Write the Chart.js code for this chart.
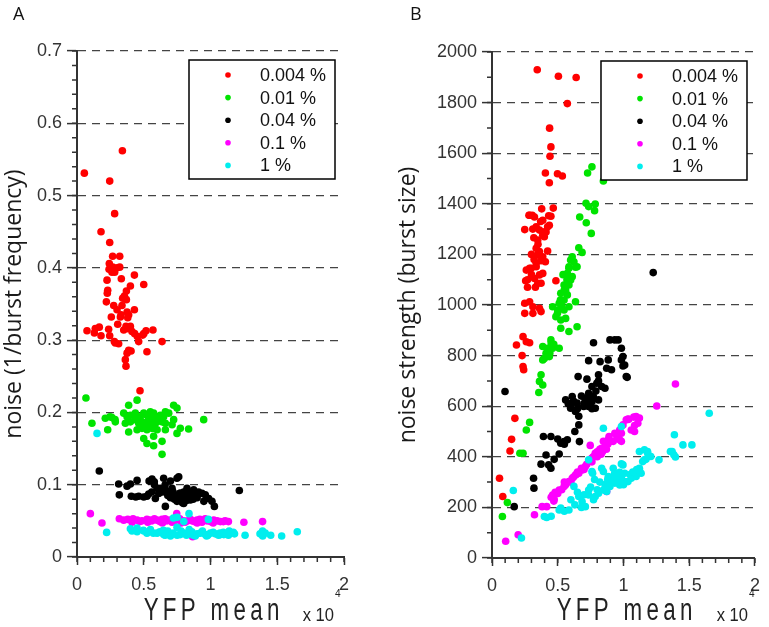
<!DOCTYPE html>
<html><head><meta charset="utf-8">
<script src="https://cdn.jsdelivr.net/npm/chart.js@4/dist/chart.umd.min.js"></script>
<style>
html,body{margin:0;padding:0;background:#fff;}
#wrap{position:relative;width:769px;height:627px;overflow:hidden;}
canvas{position:absolute;top:0;}
</style></head><body>
<div id="wrap"><canvas id="cA" width="385" height="627" style="left:0"></canvas><canvas id="cB" width="384" height="627" style="left:385px"></canvas></div>
<script>
// ---- labels / ticks ----
const seriesLabels = ['0.004 %','0.01 %','0.04 %','0.1 %','1 %'];
const seriesColors = ['#ff0000','#00e400','#000000','#ff00ff','#00eeee'];
const xTicks = [0,0.5,1,1.5,2];
const yTicksA = [0,0.1,0.2,0.3,0.4,0.5,0.6,0.7];
const yTicksB = [0,200,400,600,800,1000,1200,1400,1600,1800,2000];
const xTitle = 'YFP mean';
const yTitleA = 'noise (1/burst frequency)';
const yTitleB = 'noise strength (burst size)';

// ---- Panel A: x = YFP mean (x10^4), y = noise (1/burst frequency) ----
const A_004 = [[0.055,0.531],[0.34,0.562],[0.245,0.52],[0.282,0.475],[0.18,0.45],[0.245,0.435],[0.267,0.416],[0.32,0.416],
[0.242,0.406],[0.267,0.401],[0.24,0.398],[0.3,0.4],[0.32,0.401],[0.262,0.394],[0.282,0.394],
[0.225,0.383],[0.332,0.385],[0.43,0.39],[0.23,0.369],[0.227,0.365],[0.4,0.375],[0.5,0.377],
[0.37,0.368],[0.355,0.361],[0.342,0.358],[0.37,0.356],[0.22,0.353],[0.275,0.348],[0.337,0.348],
[0.3,0.342],[0.43,0.342],[0.375,0.339],[0.33,0.335],[0.387,0.335],[0.257,0.332],[0.325,0.332],[0.38,0.331],
[0.305,0.322],[0.367,0.319],[0.4,0.319],[0.38,0.316],[0.35,0.314],[0.412,0.312],[0.432,0.309],
[0.075,0.313],[0.137,0.316],[0.167,0.318],[0.237,0.315],[0.13,0.31],[0.18,0.306],[0.245,0.306],
[0.5,0.309],[0.517,0.313],[0.492,0.307],[0.569,0.314],[0.452,0.305],[0.462,0.298],
[0.28,0.298],[0.312,0.295],[0.287,0.296],[0.637,0.298],
[0.387,0.286],[0.405,0.285],[0.375,0.282],[0.524,0.284],[0.362,0.273],[0.367,0.264],[0.472,0.23]];
const A_01 = [[0.067,0.22],[0.387,0.21],[0.45,0.217],[0.724,0.21],[0.749,0.206],[0.112,0.185],[0.212,0.192],[0.262,0.193],
[0.287,0.187],[0.23,0.176],[0.35,0.199],[0.375,0.194],[0.4,0.196],[0.437,0.199],[0.474,0.194],[0.5,0.199],[0.524,0.196],
[0.549,0.201],[0.574,0.199],[0.6,0.194],[0.624,0.196],[0.649,0.194],[0.662,0.201],[0.687,0.199],[0.362,0.185],[0.4,0.187],
[0.437,0.19],[0.462,0.185],[0.487,0.187],[0.512,0.185],[0.537,0.19],[0.562,0.187],[0.587,0.185],[0.612,0.19],[0.637,0.187],
[0.662,0.185],[0.387,0.173],[0.45,0.176],[0.487,0.178],[0.524,0.176],[0.562,0.178],[0.6,0.176],[0.662,0.176],[0.724,0.19],
[0.712,0.183],[0.749,0.171],[0.774,0.178],[0.836,0.177],[0.949,0.19],[0.5,0.164],[0.524,0.157],[0.574,0.167],[0.637,0.16],
[0.574,0.154],[0.637,0.142],[0.55,0.19],[0.57,0.183],[0.59,0.192],[0.53,0.18],[0.6,0.187],[0.56,0.195],[0.58,0.178],
[0.247,0.194],[0.285,0.19]];
const A_04 = [[0.167,0.119],[0.312,0.101],[0.375,0.098],[0.4,0.101],[0.45,0.106],[0.562,0.108],[0.579,0.104],[0.649,0.109],
[0.749,0.109],[0.762,0.111],[0.317,0.086],[0.407,0.084],[0.462,0.084],[0.524,0.084],[0.537,0.087],[0.587,0.081],[0.612,0.088],
[0.624,0.095],[0.662,0.093],[0.687,0.09],[0.712,0.095],[0.724,0.086],[0.749,0.084],[0.774,0.088],[0.799,0.09],[0.824,0.095],
[0.849,0.088],[0.874,0.093],[0.886,0.084],[0.911,0.09],[0.936,0.088],[0.961,0.086],[0.986,0.081],[1.011,0.077],[1.029,0.07],
[0.662,0.07],[0.749,0.077],[0.799,0.074],[0.849,0.079],[1.216,0.092],[0.7,0.082],[0.73,0.08],[0.76,0.083],[0.78,0.079],
[0.8,0.082],[0.82,0.078],[0.84,0.083],[0.77,0.088],[0.72,0.09],[0.68,0.085],[0.64,0.09],[0.6,0.095],[0.56,0.09],[0.5,0.083],
[0.44,0.083],[0.79,0.075],[0.83,0.087],[0.87,0.08],[0.9,0.082],[0.95,0.077],[0.66,0.1],[0.7,0.105],[0.58,0.1],[0.54,0.105]];
const A_1p = [[0.1,0.06],[0.187,0.047],[0.317,0.053],[0.38,0.052],[0.412,0.048],[0.45,0.051],[0.487,0.05],[0.524,0.052],
[0.562,0.05],[0.6,0.051],[0.637,0.052],[0.674,0.05],[0.712,0.048],[0.749,0.052],[0.799,0.05],[0.747,0.06],[0.862,0.05],
[0.899,0.051],[0.936,0.048],[0.974,0.05],[1.024,0.051],[1.074,0.049],[1.11,0.05],[1.096,0.049],[1.134,0.049],[1.25,0.048],
[1.39,0.049],[0.866,0.028],[0.42,0.053],[0.47,0.049],[0.53,0.048],[0.58,0.053],[0.62,0.049],[0.66,0.053],[0.69,0.051],
[0.73,0.05],[0.77,0.053],[0.81,0.048],[0.85,0.052],[0.88,0.049],[0.92,0.052],[0.96,0.053],[1.0,0.049],[1.05,0.05],
[0.55,0.051],[0.35,0.051],[0.78,0.047],[0.83,0.05],[0.9,0.047],[1.02,0.047],[0.64,0.047]];
const A_1 = [[0.15,0.171],[0.222,0.034],[0.4,0.039],[0.412,0.036],[0.5,0.036],[0.524,0.033],[0.6,0.033],[0.649,0.031],
[0.699,0.032],[0.722,0.054],[0.749,0.041],[0.774,0.031],[0.799,0.033],[0.839,0.06],[0.849,0.032],[0.886,0.029],[0.924,0.033],
[0.961,0.031],[0.999,0.033],[1.036,0.032],[1.074,0.031],[0.984,0.052],[1.096,0.034],[1.134,0.03],[1.171,0.034],[1.259,0.03],
[1.371,0.032],[1.391,0.029],[1.451,0.03],[1.533,0.029],[1.65,0.035],[0.497,0.037],[0.572,0.033],[0.647,0.037],[0.871,0.03],
[0.971,0.029],[1.071,0.033],[0.45,0.035],[0.55,0.038],[0.62,0.035],[0.68,0.036],[0.72,0.033],[0.75,0.03],[0.78,0.036],
[0.82,0.03],[0.86,0.035],[0.9,0.032],[0.94,0.036],[0.98,0.03],[1.02,0.034],[1.06,0.03],[1.1,0.031],[1.14,0.036],[1.18,0.032],
[0.66,0.03],[0.84,0.038],[0.7,0.029],[0.45,0.04],[0.75,0.055],[0.8,0.049],[1.41,0.033],[1.39,0.036]];

// ---- Panel B: x = YFP mean (x10^4), y = noise strength (burst size) ----
const B_004 = [[0.344,1930],[0.505,1904],[0.64,1899],[0.573,1796],[0.438,1699],[0.448,1625],[0.441,1588],[0.406,1522],
[0.498,1519],[0.535,1510],[0.436,1483],[0.378,1380],[0.466,1383],[0.306,1355],[0.281,1355],[0.323,1348],[0.448,1351],
[0.431,1353],[0.386,1335],[0.249,1298],[0.336,1309],[0.361,1296],[0.398,1289],[0.423,1309],[0.436,1315],[0.386,1276],
[0.411,1289],[0.318,1266],[0.348,1257],[0.398,1270],[0.336,1224],[0.361,1211],[0.423,1213],[0.348,1198],[0.386,1191],
[0.373,1175],[0.406,1171],[0.286,1145],[0.336,1151],[0.261,1138],[0.298,1145],[0.336,1165],[0.361,1119],[0.386,1125],
[0.348,1086],[0.256,1096],[0.323,1105],[0.373,1086],[0.486,1096],[0.249,1007],[0.286,1013],[0.311,993],[0.361,987],
[0.249,967],[0.311,967],[0.373,974],[0.236,875],[0.261,855],[0.186,842],[0.286,851],[0.229,800],[0.236,757],[0.241,744],
[0.174,552],[0.149,469],[0.137,423],[0.057,315],[0.082,243],[0.27,1070],[0.33,1070],[0.3,1200],[0.32,1180],[0.35,1240],
[0.31,1300],[0.37,1330],[0.27,1100],[0.3,1120],[0.286,1355]];
const B_01 = [[0.76,1546],[0.727,1522],[0.847,1490],[0.715,1402],[0.735,1389],[0.785,1399],[0.78,1373],[0.667,1348],
[0.717,1325],[0.755,1283],[0.66,1226],[0.685,1208],[0.61,1191],[0.598,1178],[0.623,1171],[0.585,1151],[0.635,1149],
[0.647,1151],[0.585,1145],[0.573,1125],[0.61,1112],[0.598,1099],[0.548,1079],[0.585,1079],[0.56,1059],[0.523,1046],
[0.573,1040],[0.548,1020],[0.635,1013],[0.511,1007],[0.585,993],[0.461,993],[0.548,980],[0.498,967],[0.486,954],[0.523,941],
[0.56,947],[0.647,914],[0.585,895],[0.523,908],[0.448,862],[0.386,836],[0.423,829],[0.461,829],[0.511,829],[0.411,809],
[0.398,789],[0.436,796],[0.386,783],[0.373,724],[0.361,698],[0.386,684],[0.356,654],[0.286,536],[0.261,506],[0.212,414],
[0.236,414],[0.117,219],[0.079,164],[0.53,1000],[0.55,1060],[0.52,1020],[0.5,980],[0.54,1120],[0.57,1100],[0.45,850],
[0.44,810],[0.47,845],[0.42,800]];
const B_04 = [[0.099,658],[0.169,203],[0.316,315],[0.319,276],[0.373,371],[0.411,407],[0.448,355],[0.431,368],[0.473,390],
[0.511,411],[0.448,480],[0.523,454],[0.548,460],[0.573,467],[0.63,500],[0.665,460],[0.66,526],[0.56,625],[0.61,638],
[0.647,612],[0.635,579],[0.598,592],[0.71,625],[0.735,599],[0.76,618],[0.785,592],[0.81,625],[0.697,599],[0.735,651],
[0.76,678],[0.797,691],[0.834,678],[0.859,671],[0.655,717],[0.722,707],[0.81,724],[0.872,750],[0.909,744],[0.735,780],
[0.822,776],[0.884,783],[0.934,862],[0.897,862],[0.984,829],[0.772,851],[0.984,783],[1.009,763],[1.021,717],[0.959,862],
[0.996,796],[0.996,759],[1.028,714],[1.226,1128],[0.58,610],[0.6,600],[0.62,620],[0.65,590],[0.68,640],[0.7,610],[0.72,630],
[0.74,620],[0.75,600],[0.77,640],[0.79,660],[0.81,700],[0.76,590],[0.66,560],[0.55,450],[0.5,470],[0.391,480]];
const B_1p = [[0.104,66],[0.199,92],[0.323,171],[0.381,203],[0.416,203],[0.461,249],[0.473,232],[0.511,269],[0.548,283],
[0.585,302],[0.61,315],[0.635,328],[0.66,335],[0.685,348],[0.71,362],[0.735,381],[0.76,395],[0.785,414],[0.81,421],
[0.834,434],[0.847,461],[0.884,467],[0.922,461],[0.934,493],[0.971,506],[0.996,526],[1.021,546],[1.395,688],[1.253,601],
[1.034,549],[1.096,559],[1.121,553],[1.109,533],[1.084,524],[1.059,506],[1.084,500],[0.984,493],[0.971,467],[0.984,461],
[0.872,263],[0.5,255],[0.53,270],[0.56,290],[0.6,300],[0.62,320],[0.65,340],[0.68,355],[0.7,350],[0.72,370],[0.75,390],
[0.77,400],[0.79,405],[0.8,420],[0.82,430],[0.84,420],[0.86,440],[0.88,450],[0.9,460],[0.76,380],[0.8,400],[0.83,410],
[0.87,430],[0.95,480],[0.97,500],[0.45,240],[0.48,260],[0.55,300],[0.64,330],[0.47,225],[0.747,445],[0.89,480],[1.078,557],
[1.04,548]];
const B_1 = [[0.162,267],[0.224,79],[0.416,160],[0.398,164],[0.511,190],[0.523,197],[0.585,190],[0.63,210],[0.66,243],
[0.685,223],[0.71,203],[0.735,249],[0.735,269],[0.772,230],[0.785,243],[0.81,256],[0.847,269],[0.872,263],[0.897,283],
[0.909,309],[0.934,296],[0.959,309],[0.984,322],[1.009,335],[0.847,513],[0.847,342],[0.735,388],[0.76,342],[0.623,283],
[0.922,355],[0.971,339],[0.996,368],[0.984,520],[0.765,335],[0.834,355],[0.884,322],[0.934,335],[1.034,302],[1.084,329],
[1.121,349],[1.159,388],[1.183,421],[1.159,428],[1.208,401],[1.27,388],[1.357,421],[1.383,408],[1.387,487],[1.452,447],
[1.52,447],[1.652,572],[1.37,421],[1.395,399],[1.121,421],[1.184,414],[1.171,390],[1.146,381],[1.121,355],[1.134,335],
[1.096,322],[1.059,315],[1.009,302],[0.984,296],[0.971,289],[0.984,372],[0.6,230],[0.65,260],[0.7,250],[0.75,280],
[0.8,270],[0.82,300],[0.86,290],[0.88,310],[0.9,300],[0.93,330],[0.95,320],[1.0,290],[1.05,330],[1.07,340],[1.1,350],
[0.78,310],[0.45,165],[0.55,185],[0.68,200]];

const seriesA = [A_004, A_01, A_04, A_1p, A_1];
const seriesB = [B_004, B_01, B_04, B_1p, B_1];

const decor = {
  id: 'decor',
  afterDraw(chart, args, o) {
    const ctx = chart.ctx, ca = chart.chartArea;
    const xs = chart.scales.x, ys = chart.scales.y;
    ctx.save();
    // minor tick marks
    ctx.strokeStyle = '#333'; ctx.lineWidth = 1.5;
    ctx.beginPath();
    let n = Math.round((ys.max - ys.min) / o.yMinor);
    for (let i = 0; i <= n; i++) { const p = ys.getPixelForValue(ys.min + i * o.yMinor); ctx.moveTo(ca.left - 5, p); ctx.lineTo(ca.left, p); }
    n = Math.round((xs.max - xs.min) / o.xMinor);
    for (let i = 0; i <= n; i++) { const p = xs.getPixelForValue(xs.min + i * o.xMinor); ctx.moveTo(p, ca.bottom); ctx.lineTo(p, ca.bottom + 5); }
    ctx.stroke();
    // panel letter
    ctx.fillStyle = '#111';
    ctx.font = '18px "Open Sans", sans-serif';
    ctx.textAlign = 'left'; ctx.textBaseline = 'alphabetic';
    ctx.fillText(o.letter, o.letterX, 20);
    // x axis title (condensed, letter-spaced)
    ctx.fillStyle = '#222';
    ctx.save();
    const cx = (ca.left + ca.right) / 2 + 1;
    ctx.translate(cx, 620);
    ctx.scale(0.72, 1);
    ctx.font = '31px "Liberation Sans", Arial, sans-serif';
    ctx.letterSpacing = '6px';
    ctx.textAlign = 'center';
    ctx.fillText(o.xTitle, 3, 0);
    ctx.restore();
    ctx.letterSpacing = '0px';
    // x 10^4 multiplier
    ctx.save();
    ctx.translate(ca.right + o.expOff, 621);
    ctx.scale(0.92, 1);
    ctx.textAlign = 'right';
    ctx.font = '18px "Liberation Sans", Arial, sans-serif';
    ctx.fillText('x 10', 0, 0);
    ctx.textAlign = 'left';
    ctx.font = '11px "Liberation Sans", Arial, sans-serif';
    ctx.fillText('4', 1, -24);
    ctx.restore();
    ctx.restore();
  },
  afterDatasetsDraw(chart, args, o) {
    const ctx = chart.ctx, ca = chart.chartArea;
    const bx = ca.right - o.legRight, by = ca.top + 9, bw = 146, bh = 119;
    ctx.save();
    ctx.fillStyle = '#fff';
    ctx.fillRect(bx, by, bw, bh);
    ctx.strokeStyle = '#000'; ctx.lineWidth = 1.5;
    ctx.strokeRect(bx, by, bw, bh);
    ctx.font = '18px "Liberation Sans", Arial, sans-serif';
    ctx.textAlign = 'left'; ctx.textBaseline = 'middle';
    chart.data.datasets.forEach((ds, i) => {
      const y = by + 15 + i * 22.6;
      ctx.fillStyle = ds.backgroundColor;
      ctx.beginPath(); ctx.arc(bx + 39, y, 2.8, 0, Math.PI * 2); ctx.fill();
      ctx.fillStyle = '#111';
      ctx.fillText(ds.label, bx + 71, y + 1);
    });
    ctx.restore();
  }
};

function makeChart(id, series, cfg) {
  const tickFont = { family: '"Liberation Sans", Arial, sans-serif', size: 18 };
  return new Chart(document.getElementById(id), {
    type: 'scatter',
    data: {
      datasets: series.map((d, i) => ({
        label: seriesLabels[i],
        data: d.map(([x, y]) => ({ x, y })),
        backgroundColor: seriesColors[i],
        borderWidth: 0,
        pointRadius: 3.8,
        pointHoverRadius: 3.8,
        order: 4 - i
      }))
    },
    options: {
      responsive: false, animation: false, devicePixelRatio: 1,
      events: [],
      layout: { padding: { top: cfg.top, right: cfg.right, left: 0, bottom: 0 } },
      plugins: {
        legend: { display: false }, tooltip: { enabled: false },
        decor: { letter: cfg.letter, letterX: cfg.letterX, xTitle: xTitle, yMinor: cfg.yMinor, xMinor: 0.1, expOff: cfg.expOff, legRight: cfg.legRight }
      },
      scales: {
        x: {
          type: 'linear', min: 0, max: 2,
          afterBuildTicks: s => { s.ticks = xTicks.map(v => ({ value: v })); },
          ticks: { font: tickFont, color: '#333', padding: 9, maxRotation: 0, callback: v => String(v) },
          grid: { drawOnChartArea: false, drawTicks: true, tickLength: 8, tickColor: '#333', tickWidth: 1.5 },
          border: { display: true, color: '#333', width: 2 },
          afterFit: s => { s.height = cfg.xH; }
        },
        y: {
          type: 'linear', min: 0, max: cfg.yMax,
          afterBuildTicks: s => { s.ticks = cfg.yTicks.map(v => ({ value: v })); },
          ticks: { font: tickFont, color: '#333', padding: 5, callback: v => String(v) },
          grid: { color: '#444', lineWidth: 1.2, tickLength: 10, tickColor: '#333', tickWidth: 1.5, tickBorderDash: [] },
          border: { display: true, color: '#333', width: 2, dash: [8, 6] },
          title: { display: true, text: cfg.yTitle, color: '#1a1a1a', font: { family: '"Open Sans", sans-serif', size: 23 }, padding: { top: cfg.titlePad, bottom: 0 } },
          afterFit: s => { s.width = cfg.yW; }
        }
      }
    },
    plugins: [decor]
  });
}

makeChart('cA', seriesA, { top: 51, right: 41, xH: 70, yW: 77, yMax: 0.7, yTicks: yTicksA, yMinor: 0.02, yTitle: yTitleA, titlePad: 1, letter: 'A', letterX: 13, expOff: -10, legRight: 155 });
makeChart('cB', seriesB, { top: 52, right: 10, xH: 69, yW: 107, yMax: 2000, yTicks: yTicksB, yMinor: 100, yTitle: yTitleB, titlePad: 10, letter: 'B', letterX: 25, expOff: -7, legRight: 154 });
</script>
</body></html>
